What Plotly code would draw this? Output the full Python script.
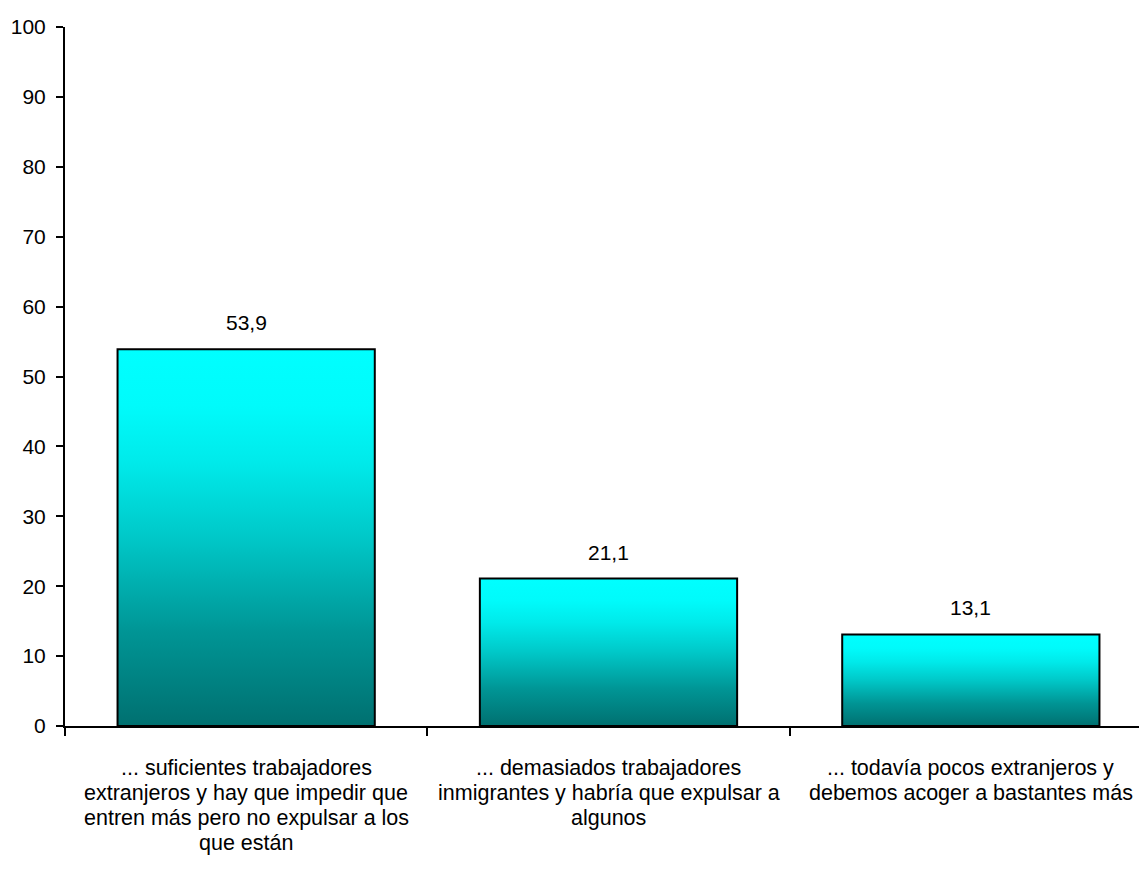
import plotly.graph_objects as go

categories = [
    "... suficientes trabajadores<br>extranjeros y hay que impedir que<br>entren más pero no expulsar a los<br>que están",
    "... demasiados trabajadores<br>inmigrantes y habría que expulsar a<br>algunos",
    "... todavía pocos extranjeros y<br>debemos acoger a bastantes más",
]
values = [53.9, 21.1, 13.1]
y_ticks = [0, 10, 20, 30, 40, 50, 60, 70, 80, 90, 100]

FONT = "Liberation Sans, Arial, sans-serif"
GRAD = [[0, "#007070"], [0.25, "#009595"], [0.5, "#00c8c8"],
        [0.7, "#00eaea"], [0.85, "#00fbfb"], [1, "#00ffff"]]
HALF = 0.355

fig = go.Figure()
for i, v in enumerate(values):
    fig.add_trace(go.Scatter(
        x=[i - HALF, i + HALF, i + HALF, i - HALF, i - HALF],
        y=[0, 0, v, v, 0],
        mode="lines", fill="toself",
        fillgradient=dict(type="vertical", colorscale=GRAD, start=0, stop=v),
        line=dict(color="black", width=2),
        hoverinfo="skip", showlegend=False,
    ))

annotations = []
for i, v in enumerate(values):
    annotations.append(dict(
        x=i, y=v, xref="x", yref="y", text=f"{v:.1f}".replace(".", ","),
        showarrow=False, yanchor="bottom", yshift=13,
        font=dict(family=FONT, size=21, color="black"),
    ))
for i, c in enumerate(categories):
    for j, line in enumerate(c.split("<br>")):
        annotations.append(dict(
            x=i, y=0, xref="x", yref="paper", text=line,
            showarrow=False, yanchor="middle", yshift=-42 - 25 * j,
            font=dict(family=FONT, size=21.5, color="black"),
        ))

fig.update_layout(
    width=1147, height=879,
    margin=dict(l=55, r=3, t=19, b=161),
    plot_bgcolor="white", paper_bgcolor="white",
    annotations=annotations,
    xaxis=dict(
        range=[-0.5, 2.5], tickvals=[-0.5, 0.5, 1.5, 2.5],
        ticktext=["", "", "", ""], ticks="outside", ticklen=8, tickwidth=2,
        tickcolor="black", showline=True, linecolor="black", linewidth=2,
        showgrid=False, zeroline=False, fixedrange=True,
    ),
    yaxis=dict(
        range=[0, 100], tickvals=y_ticks, ticks="outside", ticklen=7,
        tickwidth=2, tickcolor="black", showline=True, linecolor="black",
        linewidth=2, showgrid=False, zeroline=False,
        tickfont=dict(family=FONT, size=21, color="black"),
        ticklabelstandoff=6,
    ),
)
fig.write_html("out.html")
